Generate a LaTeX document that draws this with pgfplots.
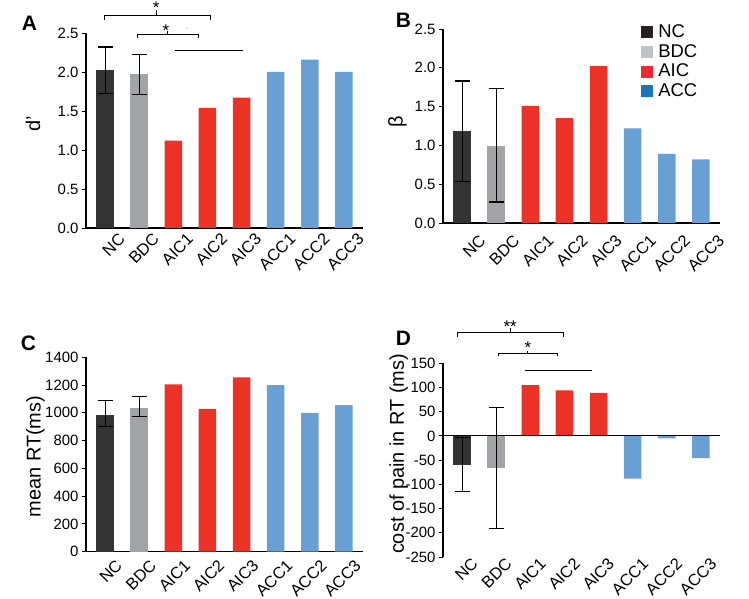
\documentclass[border=0pt]{standalone}
\usepackage{fontspec}
\setmainfont{Liberation Sans}
\usepackage{pgfplots}
\pgfplotsset{compat=1.18}
\definecolor{ncc}{HTML}{333333}
\definecolor{bdcc}{HTML}{A2A3A7}
\definecolor{aicc}{HTML}{EC3226}
\definecolor{accc}{HTML}{68A0D5}
\definecolor{legNC}{HTML}{231F20}
\definecolor{legBDC}{HTML}{C1C2C6}
\definecolor{legAIC}{HTML}{EC2A30}
\definecolor{legACC}{HTML}{1C75BC}
\tikzset{starlbl/.style={anchor=base, font=\fontsize{17}{19}\selectfont, inner sep=0pt}}
\pgfplotsset{
 panel/.style={
  scale only axis, width=277bp,
  xmin=-0.56, xmax=7.56,
  axis x line=bottom, axis y line=left,
  axis line style={-, line width=1.1bp, black},
  xtick={0,...,7}, xticklabels={NC,BDC,AIC1,AIC2,AIC3,ACC1,ACC2,ACC3},
  xtick style={draw=none},
  ytick style={line width=0.9bp, black},
  tick align=outside, major tick length=4bp,
  x tick label style={rotate=45, anchor=north east, font=\fontsize{16.5}{18}\selectfont, inner sep=1bp},
  y tick label style={font=\fontsize{15}{17}\selectfont},
  /pgf/number format/assume math mode=true,
  /pgf/number format/1000 sep={},
  clip=false,
  ylabel style={font=\fontsize{20}{23}\selectfont, anchor=center},
 },
 mybar/.style={ybar, bar width=17.5bp, bar shift=0pt, draw=none, fill=#1},
 myerr/.style={/pgfplots/error bars/y dir=both, /pgfplots/error bars/y explicit,
   /pgfplots/error bars/error bar style={black, line width=1.1bp},
   /pgfplots/error bars/error mark options={rotate=90, black, mark size=7.5bp, line width=1.1bp}},
 dec1/.style={yticklabel style={/pgf/number format/fixed, /pgf/number format/fixed zerofill, /pgf/number format/precision=1}},
}
\begin{document}
\begin{tikzpicture}
\useasboundingbox (0,0) rectangle (749bp,599bp);
% Panel letters
\node[font=\bfseries\fontsize{21}{24}\selectfont] at (29.5bp,575.3bp) {A};
\node[font=\bfseries\fontsize{21}{24}\selectfont] at (403.5bp,579bp) {B};
\node[font=\bfseries\fontsize{21}{24}\selectfont] at (28.5bp,256bp) {C};
\node[font=\bfseries\fontsize{21}{24}\selectfont] at (403.5bp,261bp) {D};

% ---------- A ----------
\begin{axis}[panel, dec1, at={(86bp,371bp)}, anchor=south west, height=195bp,
  ymin=0, ymax=2.5, ytick={0,0.5,...,2.5},
  x tick label style={xshift=10bp, yshift=-8bp},
  ylabel={d'}, ylabel style={at={(axis description cs:-0.191,0.533)}}]
\addplot[mybar=ncc, myerr] coordinates {(0,2.03) += (0,0.29) -= (0,0.30)};
\addplot[mybar=bdcc, myerr] coordinates {(1,1.97) += (0,0.25) -= (0,0.26)};
\addplot[mybar=aicc] coordinates {(2,1.12) (3,1.54) (4,1.67)};
\addplot[mybar=accc] coordinates {(5,2.00) (6,2.16) (7,2.00)};
\draw[black, line width=0.9bp] (axis cs:-0.03,2.67) -- (axis cs:-0.03,2.73) -- (axis cs:3.09,2.73) -- (axis cs:3.09,2.67);
\draw[black, line width=0.9bp] (axis cs:1.5,2.73) -- (axis cs:1.5,2.79);
\node[starlbl] at (axis cs:1.5,2.745) {*};
\draw[black, line width=0.9bp] (axis cs:0.96,2.44) -- (axis cs:0.96,2.48) -- (axis cs:2.73,2.48) -- (axis cs:2.73,2.44);
\draw[black, line width=0.9bp] (axis cs:1.84,2.48) -- (axis cs:1.84,2.52);
\node[starlbl] at (axis cs:1.78,2.46) {*};
\fill[gray] (axis cs:2.40,2.56) circle (0.5bp);
\draw[black, line width=0.9bp] (axis cs:2.06,2.28) -- (axis cs:4.04,2.28);
\end{axis}

% ---------- B ----------
\begin{axis}[panel, dec1, at={(443bp,376bp)}, anchor=south west, height=194bp,
  ymin=0, ymax=2.5, ytick={0,0.5,...,2.5},
  x tick label style={xshift=8bp, yshift=-15bp},
  ylabel={β}, ylabel style={at={(axis description cs:-0.164,0.52)}},
  legend style={draw=none, fill=none, at={(axis description cs:0.714,1.035)}, anchor=north west,
    font=\fontsize{18.5}{21}\selectfont, row sep=1.5bp, column sep=4bp, inner sep=0pt},
  legend cell align=left]
\addlegendimage{legend image code/.code={\fill[legNC] (0bp,-5.5bp) rectangle (11bp,5.5bp);}}
\addlegendentry{NC}
\addlegendimage{legend image code/.code={\fill[legBDC] (0bp,-5.5bp) rectangle (11bp,5.5bp);}}
\addlegendentry{BDC}
\addlegendimage{legend image code/.code={\fill[legAIC] (0bp,-5.5bp) rectangle (11bp,5.5bp);}}
\addlegendentry{AIC}
\addlegendimage{legend image code/.code={\fill[legACC] (0bp,-5.5bp) rectangle (11bp,5.5bp);}}
\addlegendentry{ACC}
\addplot[mybar=ncc, forget plot, myerr] coordinates {(0,1.18) += (0,0.65) -= (0,0.64)};
\addplot[mybar=bdcc, forget plot, myerr] coordinates {(1,0.99) += (0,0.74) -= (0,0.72)};
\addplot[mybar=aicc, forget plot] coordinates {(2,1.51) (3,1.35) (4,2.02)};
\addplot[mybar=accc, forget plot] coordinates {(5,1.22) (6,0.89) (7,0.82)};
\end{axis}

% ---------- C ----------
\begin{axis}[panel, at={(86bp,47.3bp)}, anchor=south west, height=194.4bp,
  ymin=0, ymax=1400, ytick={0,200,...,1400},
  x tick label style={xshift=6bp, yshift=-8bp},
  ylabel={mean RT(ms)}, ylabel style={at={(axis description cs:-0.182,0.489)}}]
\addplot[mybar=ncc, myerr] coordinates {(0,986) += (0,106) -= (0,86)};
\addplot[mybar=bdcc, myerr] coordinates {(1,1035) += (0,80) -= (0,63)};
\addplot[mybar=aicc] coordinates {(2,1205) (3,1029) (4,1256)};
\addplot[mybar=accc] coordinates {(5,1200) (6,999) (7,1056)};
\end{axis}

% ---------- D ----------
\begin{axis}[panel, at={(443bp,42bp)}, anchor=south west, height=193.7bp,
  ymin=-250, ymax=150, ytick={-250,-200,...,150},
  x axis line style={draw=none},
  x tick label style={xshift=10bp, yshift=-2bp},
  ylabel={cost of pain in RT (ms)}, ylabel style={at={(axis description cs:-0.16,0.532)}}]
\addplot[mybar=ncc, myerr] coordinates {(0,-61) += (0,58) -= (0,53)};
\addplot[mybar=bdcc, myerr] coordinates {(1,-66) += (0,124) -= (0,126)};
\addplot[mybar=aicc] coordinates {(2,105) (3,94) (4,89)};
\addplot[mybar=accc] coordinates {(5,-88) (6,-5) (7,-46)};
\draw[black, line width=1.1bp] (axis cs:-0.56,0) -- (axis cs:7.56,0);
\draw[black, line width=0.9bp] (axis cs:-0.13,204.5) -- (axis cs:-0.13,214) -- (axis cs:2.97,214) -- (axis cs:2.97,204.5);
\draw[black, line width=0.9bp] (axis cs:1.41,214) -- (axis cs:1.41,223);
\node[starlbl] at (axis cs:1.41,213.6) {**};
\draw[black, line width=0.9bp] (axis cs:1.06,165) -- (axis cs:1.06,171) -- (axis cs:2.79,171) -- (axis cs:2.79,165);
\draw[black, line width=0.9bp] (axis cs:1.93,171) -- (axis cs:1.93,176);
\node[starlbl] at (axis cs:1.93,171) {*};
\draw[black, line width=0.9bp] (axis cs:1.83,135) -- (axis cs:3.80,135);
\end{axis}
\end{tikzpicture}
\end{document}
